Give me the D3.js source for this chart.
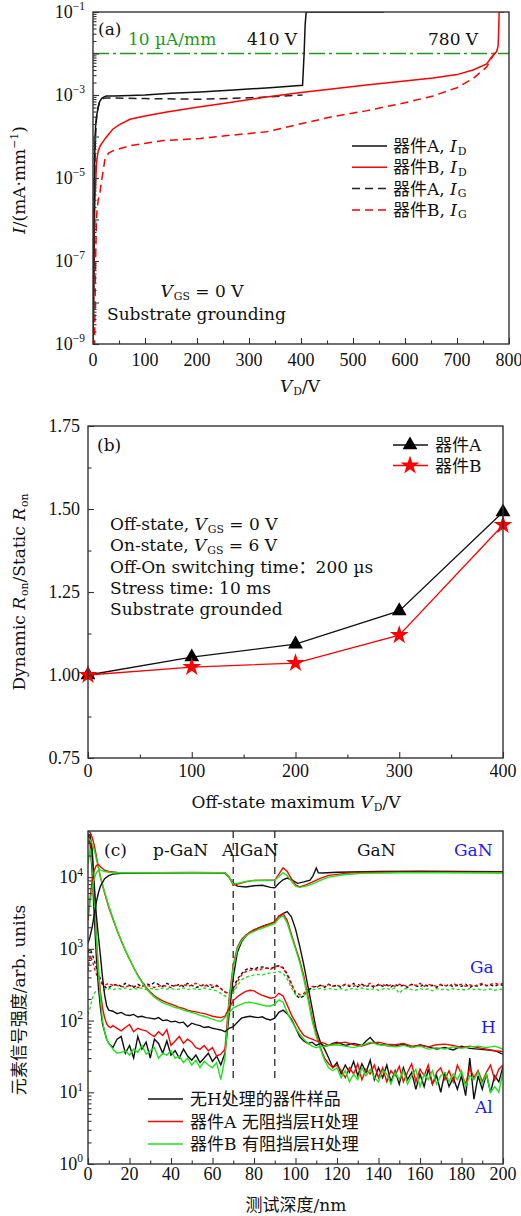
<!DOCTYPE html>
<html><head><meta charset="utf-8">
<script src="https://cdn.jsdelivr.net/npm/d3@7"></script>
<style>
body{margin:0;background:#fff}
svg{display:block}
text{font-family:"DejaVu Serif","Noto Sans CJK SC",serif;fill:#111}
.num{font-family:"Liberation Serif","DejaVu Serif",serif}
</style></head>
<body><svg id="c" width="521" height="1216"></svg>
<script>
// ---------- Panel (a) data: [V_D (V), I (mA/mm)] ----------
const idA = [[0,1e-9],[1,1e-8],[2,1e-6],[3,2e-5],[4,1e-4],[5,1.8e-4],[7,3.2e-4],[10,5e-4],[13,7e-4],[17,8.3e-4],[22,9.1e-4],[26,9.4e-4],[40,9.5e-4],[100,1.0e-3],[150,1.1e-3],[206,1.18e-3],[270,1.32e-3],[340,1.5e-3],[403,1.72e-3],[406,1e-2],[408,5e-2],[410,0.1],[560,0.1]];
const igA = [[0,1e-9],[1,1e-8],[2,1e-6],[4,5e-5],[6,2e-4],[8,4e-4],[12,6.5e-4],[16,7.8e-4],[20,8.3e-4],[26,8.5e-4],[40,8.5e-4],[100,8.2e-4],[206,7.9e-4],[270,8.3e-4],[334,8.9e-4],[403,1.0e-3]];
const idB = [[0,1e-9],[1,1e-8],[2,1e-7],[3,1e-6],[4,3.7e-6],[5,7e-6],[7,2.5e-5],[10,4.5e-5],[14,6e-5],[19,7.4e-5],[25,9.5e-5],[38,1.5e-4],[50,1.9e-4],[71,2.6e-4],[100,3.1e-4],[142,3.9e-4],[200,5.1e-4],[270,6.8e-4],[330,8.8e-4],[404,1.17e-3],[526,1.74e-3],[654,2.57e-3],[700,3.1e-3],[731,4e-3],[757,5.6e-3],[768,8.7e-3],[776,1.1e-2],[779,1.5e-2],[780,0.03],[781,0.1],[790,0.1]];
const igB = [[0,8e-10],[3,1e-9],[4,1e-8],[5,1e-7],[6,4e-7],[7,1.3e-6],[10,3e-6],[13,4e-6],[16,8e-6],[20,1.6e-5],[23,2.9e-5],[30,4e-5],[38,4.5e-5],[71,6e-5],[135,8e-5],[206,9e-5],[258,1.05e-4],[334,1.3e-4],[398,2e-4],[460,3e-4],[527,4.2e-4],[600,6.5e-4],[654,9.5e-4],[700,1.5e-3],[731,2.5e-3],[757,4.7e-3],[767,8e-3],[775,1.1e-2],[779,1.3e-2]];
const critCurrent = 1e-2; // 10 µA/mm
const xTicksA = [0,100,200,300,400,500,600,700,800];
const yExpLabelsA = [-1,-3,-5,-7,-9];

// ---------- Panel (b) data ----------
const vStress = [0,100,200,300,400];
const ronA = [1.0,1.054,1.093,1.193,1.491];
const ronB = [1.0,1.024,1.036,1.12,1.452];
const xTicksB = [0,100,200,300,400];
const yTicksB = [0.75,1.00,1.25,1.50,1.75];

// ---------- Panel (c) data (SIMS depth profiles) ----------
const depthGrid = [0,1,2,3,4,5,6,7,8,9,10,11,12,14,16,18,20,22,24,26,28,30,32,34,36,38,40,42,44,46,48,50,52,54,56,58,60,62,64,66,68,70,72,74,76,78,80,82,84,86,88,90,92,94,96,98,100,102,104,106,108,110,112,114,116,118,120,122,124,126,128,130,132,134,136,138,140,142,144,146,148,150,152,154,156,158,160,162,164,166,168,170,172,174,176,178,180,182,184,186,188,190,192,194,196,198,200];
const alBlack = [40000,30000,12000,3000,800,300,150,90,70,55,48,45,42,
 55,60,35,45,30,60,40,50,30,55,48,35,52,33,38,30,40,32,28,33,26,30,35,27,32,24,35,
 120,400,900,1250,1500,1700,1800,1950,2050,2150,2250,2350,2700,3100,3300,2800,1900,1100,600,300,150,75,50,40,30,22,
 26,18,24,19,27,17,25,19,28,15,22,16,24,14,20,13,22,15,19,11,18,12,21,13,17,10,19,12,16,11,17,9,30,8,17,11,18,10,17,14,23];
const alRed = [30000,35000,20000,6000,1500,500,250,150,110,90,82,80,85,
 78,72,80,88,70,78,74,72,65,60,70,62,75,45,52,60,48,55,50,42,40,45,38,42,32,34,40,
 200,600,1050,1350,1550,1700,1850,1950,2050,2150,2250,2400,2900,3100,2500,1600,1050,700,420,220,110,65,42,30,25,22,
 24,20,16,22,18,25,15,21,18,24,16,22,14,20,17,23,14,19,25,14,21,17,24,13,19,22,15,20,14,24,18,13,22,16,20,14,19,24,15,21,24];
const alGreen = [15000,25000,15000,5000,1500,500,200,100,70,55,48,44,40,
 35,36,38,33,40,36,45,34,38,42,30,35,33,38,30,32,26,30,24,28,22,27,24,22,26,15,30,
 180,550,1000,1300,1500,1650,1750,1850,1950,2050,2150,2250,2700,2900,2300,1500,1000,650,380,200,100,60,40,28,22,20,
 22,16,20,14,18,15,22,17,21,16,14,20,18,13,19,15,20,13,17,21,12,18,15,20,13,17,19,14,18,15,20,12,17,15,19,13,18,10,12,10,20];
const gaBlack = [900,1000,850,700,550,450,380,330,300,280,290,300,310,
 320,300,330,310,290,320,300,330,310,340,320,300,330,310,300,320,300,330,310,290,300,320,300,290,310,280,250,
 240,280,380,450,510,540,520,550,560,540,530,560,580,550,450,330,230,205,220,260,290,300,310,290,320,300,
 310,290,320,300,330,295,320,300,310,290,320,300,315,295,320,300,310,290,320,305,295,320,300,310,290,315,300,320,295,310,300,320,290,310,300,320,305,315,300,320,310];
const gaRed = [500,800,700,550,450,380,340,320,310,320,330,320,310,
 310,300,290,310,300,290,300,310,300,290,300,310,300,290,310,300,320,300,310,330,310,300,320,310,300,280,250,
 230,260,350,430,480,500,520,500,530,540,520,560,580,540,430,320,250,230,240,270,300,290,310,300,320,300,
 310,300,320,310,300,320,300,310,330,300,310,320,300,315,300,320,310,300,320,310,330,300,320,310,300,320,310,300,330,310,320,300,315,300,320,330,310,320,330,320,330];
const gaGreen = [120,150,200,240,260,270,265,260,270,280,275,280,270,
 280,275,285,270,280,275,285,270,280,275,270,285,275,280,270,275,285,270,280,275,270,285,275,270,260,240,220,
 210,240,310,370,400,420,430,440,430,450,460,470,480,460,380,290,230,215,225,250,270,275,280,270,280,275,
 270,280,265,275,280,270,285,275,270,280,265,275,280,270,285,240,275,280,270,265,280,270,275,260,280,270,275,265,280,270,275,265,280,270,275,265,270,275,265,270,275];
const ganBlack = [[0,1200],[1,1500],[2,2000],[3,3000],[4,4500],[5,6000],[6,7500],[8,9500],[10,10500],[12,11000],[16,11300],[30,11400],[50,11500],[66,11400],[68,10000],[70,8200],[72,7500],[76,7300],[80,7600],[84,7700],[88,7200],[90,7100],[92,8200],[94,9200],[96,9700],[98,9200],[101,8200],[104,8600],[107,9100],[108.5,10500],[110,13400],[111,11500],[113,11400],[120,11700],[140,12000],[160,12100],[180,12000],[200,11900]];
const ganRed = [[0,2500],[1,5000],[2,9000],[3,12500],[4,14500],[5,15000],[6,14000],[8,12500],[10,12000],[14,11600],[30,11500],[50,11600],[66,11500],[68,10000],[70,7800],[72,8000],[76,8600],[80,9000],[86,9100],[90,9100],[92,11000],[94,13500],[96,12000],[98,9500],[100,7800],[102,7300],[105,7800],[108,8500],[112,9600],[116,10600],[124,11300],[132,11600],[150,11700],[170,11700],[200,11600]];
const ganGreen = [[0,3000],[1,4500],[2,7000],[3,9500],[4,11500],[5,12500],[6,12500],[8,12000],[12,11500],[30,11500],[50,11500],[66,11500],[68,10000],[70,8000],[72,8200],[76,8700],[80,9000],[86,9000],[90,9100],[92,10200],[94,11500],[96,10500],[98,8800],[100,7500],[102,7200],[105,7500],[108,8000],[112,9000],[116,10000],[124,10900],[132,11300],[150,11500],[170,11500],[200,11400]];
const hBlack = [[0,40000],[1,38000],[2,25000],[3,8000],[4,3000],[5,1500],[6,800],[7,400],[8,230],[9,160],[10,140],[12,135],[14,125],[16,130],[18,120],[20,118],[22,122],[24,112],[26,115],[28,110],[30,108],[32,105],[34,110],[36,100],[38,102],[40,96],[42,98],[44,93],[46,95],[48,82],[50,92],[52,88],[54,85],[56,80],[58,82],[60,78],[62,76],[64,74],[66,70],[68,78],[70,82],[72,95],[74,108],[76,112],[78,115],[80,112],[82,110],[84,113],[86,105],[88,102],[90,108],[92,130],[94,140],[96,125],[98,105],[100,80],[102,60],[104,52],[106,48],[108,50],[110,45],[112,48],[114,44],[116,45],[118,48],[120,50],[124,45],[128,48],[132,45],[134,52],[136,58],[138,50],[140,47],[144,45],[148,44],[152,47],[156,42],[160,46],[164,43],[168,40],[172,42],[176,39],[180,44],[184,41],[188,40],[192,39],[196,38],[200,34]];
const hRed = [[0,45000],[1,42000],[2,36000],[3,28000],[4,20000],[5,14000],[6,10000],[8,6000],[10,3800],[12,2600],[14,1800],[16,1300],[18,950],[20,720],[22,550],[24,430],[26,350],[28,290],[30,250],[32,222],[34,202],[36,188],[38,178],[40,170],[42,162],[44,152],[46,148],[48,140],[50,135],[52,132],[54,128],[56,125],[58,120],[60,115],[62,112],[64,110],[66,115],[68,150],[70,190],[72,215],[74,235],[76,255],[78,265],[80,260],[82,240],[84,225],[86,215],[88,205],[90,210],[92,240],[94,220],[96,165],[98,120],[100,95],[102,75],[104,62],[106,58],[108,55],[110,52],[112,50],[114,48],[116,45],[120,48],[124,50],[128,46],[132,44],[136,48],[140,50],[144,47],[148,46],[152,48],[156,44],[160,45],[164,43],[168,46],[172,47],[176,45],[180,42],[184,44],[188,42],[192,40],[196,38],[200,37]];
const hGreen = [[0,35000],[1,33000],[2,29000],[3,24000],[4,18000],[5,13500],[6,10000],[8,6200],[10,4000],[12,2700],[14,1850],[16,1320],[18,960],[20,720],[22,545],[24,420],[26,340],[28,280],[30,240],[32,212],[34,192],[36,178],[38,168],[40,160],[42,152],[44,148],[46,140],[48,135],[50,130],[52,125],[54,118],[56,115],[58,110],[60,105],[62,100],[64,98],[66,110],[68,130],[70,150],[72,160],[74,170],[76,178],[78,180],[80,175],[82,170],[84,165],[86,160],[88,160],[90,170],[92,195],[94,180],[96,130],[98,100],[100,80],[102,65],[104,55],[106,48],[108,44],[110,42],[112,43],[116,45],[120,46],[124,44],[128,42],[132,45],[136,50],[140,46],[144,45],[148,43],[152,45],[156,42],[160,44],[164,40],[168,42],[172,40],[176,43],[180,41],[184,43],[188,44],[192,42],[196,44],[200,40]];
const layerBounds = [70,90];
const xTicksC = [0,20,40,60,80,100,120,140,160,180,200];
const yExpC = [0,1,2,3,4];

// ---------- drawing ----------
const svg = d3.select("#c");
const RED = "#ff0000", GRN = "#19e619", DGRN = "#1f9a1f", BLUE = "#1a1aff";

function rich(sel, x, y, parts, o = {}) {
  const fs = o.fs || 17;
  const t = sel.append("text").attr("x", x).attr("y", y).attr("font-size", fs)
    .attr("text-anchor", o.anchor || "start");
  if (o.cls) t.attr("class", o.cls);
  if (o.fill) t.style("fill", o.fill);
  if (o.rotate) t.attr("transform", `rotate(-90,${x},${y})`);
  let shift = 0;
  parts.forEach(p => {
    if (typeof p === "string") p = {t: p};
    const target = p.sub ? fs * 0.15 : p.sup ? -fs * 0.42 : 0;
    const ts = t.append("tspan").attr("dy", target - shift).text(p.t);
    shift = target;
    if (p.sub || p.sup) ts.attr("font-size", fs * 0.64);
    if (p.sub) ts.attr("dx", 1);
    if (p.i) ts.attr("font-style", "italic");
  });
  return t;
}
function frame(x, y) {
  const [x0, x1] = x.range(), [y1, y0] = y.range();
  svg.append("rect").attr("x", x0).attr("y", y0).attr("width", x1 - x0).attr("height", y1 - y0)
    .attr("fill", "none").attr("stroke", "#333").attr("stroke-width", 1.4);
}
function clipFor(id, x, y) {
  const [x0, x1] = x.range(), [y1, y0] = y.range();
  svg.append("clipPath").attr("id", id).append("rect")
    .attr("x", x0).attr("y", y0).attr("width", x1 - x0).attr("height", y1 - y0);
  return svg.append("g").attr("clip-path", `url(#${id})`);
}
function ticks(x, y, xMaj, xMin, yMaj, yMin) {
  const yb = y.range()[0], xl = x.range()[0];
  const st = g => { g.select(".domain").remove(); g.selectAll("line").attr("stroke", "#333").attr("stroke-width", 1.1); };
  svg.append("g").attr("transform", `translate(0,${yb})`).call(d3.axisBottom(x).tickValues(xMaj).tickSize(-6).tickFormat("")).call(st);
  svg.append("g").attr("transform", `translate(0,${yb})`).call(d3.axisBottom(x).tickValues(xMin).tickSize(-3.5).tickFormat("")).call(st);
  svg.append("g").attr("transform", `translate(${xl},0)`).call(d3.axisLeft(y).tickValues(yMaj).tickSize(-6).tickFormat("")).call(st);
  svg.append("g").attr("transform", `translate(${xl},0)`).call(d3.axisLeft(y).tickValues(yMin).tickSize(-3.5).tickFormat("")).call(st);
}
const isDecade = v => Math.abs(Math.log10(v) - Math.round(Math.log10(v))) < 1e-9;

// ===== Panel (a) =====
const xA = d3.scaleLinear([0, 800], [93, 509]);
const yA = d3.scaleLog([1e-9, 1e-1], [344, 12]);
const gA = clipFor("ca", xA, yA);
const lineA = d3.line().x(d => xA(d[0])).y(d => yA(d[1]));
gA.append("line").attr("x1", xA(0)).attr("x2", xA(800)).attr("y1", yA(critCurrent)).attr("y2", yA(critCurrent))
  .attr("stroke", DGRN).attr("stroke-width", 1.4).attr("stroke-dasharray", "16,4,3,4");
[[igB, RED, "8,5"], [igA, "#222", "8,5"], [idB, RED, null], [idA, "#111", null]].forEach(([d, c, da]) => {
  const p = gA.append("path").attr("d", lineA(d)).attr("fill", "none").attr("stroke", c).attr("stroke-width", 1.5);
  if (da) p.attr("stroke-dasharray", da);
});
const minorA = yA.ticks().filter(v => !isDecade(v));
const majA = yA.ticks().filter(isDecade);
ticks(xA, yA, xTicksA, d3.range(50, 800, 100), majA, minorA);
frame(xA, yA);
xTicksA.forEach(v => svg.append("text").attr("class", "num").attr("x", xA(v)).attr("y", 366).attr("font-size", 18).attr("text-anchor", "middle").text(v));
yExpLabelsA.forEach(e => rich(svg, 85, yA(Math.pow(10, e)) + 6, ["10", {t: "−" + Math.abs(e), sup: true}], {anchor: "end", fs: 18, cls: "num"}));
rich(svg, 300, 392, [{t: "V", i: true}, {t: "D", sub: true}, "/V"], {anchor: "middle", fs: 17});
rich(svg, 25, 180, [{t: "I", i: true}, "/(mA·mm", {t: "−1", sup: true}, ")"], {anchor: "middle", fs: 17, rotate: true});
rich(svg, 98, 35, ["(a)"], {fs: 17});
rich(svg, 128, 45, ["10 µA/mm"], {fs: 17, fill: DGRN});
rich(svg, 247, 45, ["410 V"], {fs: 17});
rich(svg, 428, 45, ["780 V"], {fs: 17});
rich(svg, 202, 297, [{t: "V", i: true}, {t: "GS", sub: true}, " = 0 V"], {anchor: "middle", fs: 17});
rich(svg, 107, 320, ["Substrate grounding"], {fs: 17});
const legA = [["器件A, ", "D", "#111", null], ["器件B, ", "D", RED, null], ["器件A, ", "G", "#222", "8,5"], ["器件B, ", "G", RED, "8,5"]];
legA.forEach((r, i) => {
  const y = 146 + i * 21.3;
  const l = svg.append("line").attr("x1", 352).attr("x2", 387).attr("y1", y).attr("y2", y).attr("stroke", r[2]).attr("stroke-width", 1.5);
  if (r[3]) l.attr("stroke-dasharray", r[3]);
  rich(svg, 393, y + 6, [r[0], {t: "I", i: true}, {t: r[1], sub: true}], {fs: 17});
});

// ===== Panel (b) =====
const xB = d3.scaleLinear([0, 400], [88, 503]);
const yB = d3.scaleLinear([0.75, 1.75], [758, 426]);
const gB = svg.append("g");
const lineB = d3.line().x((d, i) => xB(vStress[i])).y(d => yB(d));
gB.append("path").attr("d", lineB(ronA)).attr("fill", "none").attr("stroke", "#111").attr("stroke-width", 1.3);
gB.append("path").attr("d", lineB(ronB)).attr("fill", "none").attr("stroke", RED).attr("stroke-width", 1.3);
const tri = d3.symbol(d3.symbolTriangle, 95), star = d3.symbol(d3.symbolStar, 110);
ronA.forEach((v, i) => gB.append("path").attr("d", tri()).attr("transform", `translate(${xB(vStress[i])},${yB(v)})`).attr("fill", "#000"));
ronB.forEach((v, i) => gB.append("path").attr("d", star()).attr("transform", `translate(${xB(vStress[i])},${yB(v)})`).attr("fill", RED));
ticks(xB, yB, xTicksB, [50, 150, 250, 350], yTicksB, [0.875, 1.125, 1.375, 1.625]);
frame(xB, yB);
xTicksB.forEach(v => svg.append("text").attr("class", "num").attr("x", xB(v)).attr("y", 777).attr("font-size", 18).attr("text-anchor", "middle").text(v));
yTicksB.forEach(v => svg.append("text").attr("class", "num").attr("x", 80).attr("y", yB(v) + 6).attr("font-size", 18).attr("text-anchor", "end").text(v.toFixed(2)));
rich(svg, 296, 808, ["Off-state maximum ", {t: "V", i: true}, {t: "D", sub: true}, "/V"], {anchor: "middle", fs: 17});
rich(svg, 25, 592, ["Dynamic ", {t: "R", i: true}, {t: "on", sub: true}, "/Static ", {t: "R", i: true}, {t: "on", sub: true}], {anchor: "middle", fs: 17, rotate: true});
rich(svg, 97, 451, ["(b)"], {fs: 17});
[["器件A", "#111", tri], ["器件B", RED, star]].forEach((r, i) => {
  const y = 445 + i * 20.5;
  svg.append("line").attr("x1", 393).attr("x2", 428).attr("y1", y).attr("y2", y).attr("stroke", r[1]).attr("stroke-width", 1.3);
  svg.append("path").attr("d", r[2]()).attr("transform", `translate(410,${y})`).attr("fill", r[1] === RED ? RED : "#000");
  rich(svg, 435, y + 6, [r[0]], {fs: 17});
});
const infoB = [
  ["Off-state, ", {t: "V", i: true}, {t: "GS", sub: true}, " = 0 V"],
  ["On-state, ", {t: "V", i: true}, {t: "GS", sub: true}, " = 6 V"],
  ["Off-On switching time：200 µs"],
  ["Stress time: 10 ms"],
  ["Substrate grounded"]];
infoB.forEach((p, i) => rich(svg, 110, 530 + i * 21.3, p, {fs: 17}));

// ===== Panel (c) =====
const xC = d3.scaleLinear([0, 200], [88, 503]);
const yC = d3.scaleLog([1, 44000], [1164, 831]);
const gC = clipFor("cc", xC, yC);
const lineC = d3.line().x(d => xC(d[0])).y(d => yC(d[1]));
const gridLine = d3.line().x((d, i) => xC(depthGrid[i])).y(d => yC(d));
layerBounds.forEach(b => gC.append("line").attr("x1", xC(b)).attr("x2", xC(b)).attr("y1", yC(44000)).attr("y2", yC(15))
  .attr("stroke", "#444").attr("stroke-width", 1.5).attr("stroke-dasharray", "7,5"));
const cols = ["#111", RED, GRN];
[gaBlack, gaRed, gaGreen].forEach((d, k) => gC.append("path").attr("d", gridLine(d)).attr("fill", "none").attr("stroke", cols[k]).attr("stroke-width", 1.4).attr("stroke-dasharray", "3,2.5"));
[alBlack, alRed, alGreen].forEach((d, k) => gC.append("path").attr("d", gridLine(d)).attr("fill", "none").attr("stroke", cols[k]).attr("stroke-width", 1.4));
[hBlack, hRed, hGreen].forEach((d, k) => gC.append("path").attr("d", lineC(d)).attr("fill", "none").attr("stroke", cols[k]).attr("stroke-width", 1.4));
[ganBlack, ganRed, ganGreen].forEach((d, k) => gC.append("path").attr("d", lineC(d)).attr("fill", "none").attr("stroke", cols[k]).attr("stroke-width", 1.4));
const minorC = yC.ticks().filter(v => !isDecade(v));
const majC = yC.ticks().filter(isDecade);
ticks(xC, yC, xTicksC, d3.range(10, 200, 20), majC, minorC);
frame(xC, yC);
xTicksC.forEach(v => svg.append("text").attr("class", "num").attr("x", xC(v)).attr("y", 1180).attr("font-size", 18).attr("text-anchor", "middle").text(v));
yExpC.forEach(e => rich(svg, 83, yC(Math.pow(10, e)) + 6, ["10", {t: String(e), sup: true}], {anchor: "end", fs: 18, cls: "num"}));
rich(svg, 296, 1211, ["测试深度/nm"], {anchor: "middle", fs: 17});
rich(svg, 25, 1000, ["元素信号强度/arb. units"], {anchor: "middle", fs: 17, rotate: true});
rich(svg, 104, 856, ["(c)"], {fs: 17});
rich(svg, 153, 856, ["p-GaN"], {fs: 17});
rich(svg, 222, 856, ["AlGaN"], {fs: 17});
rich(svg, 357, 856, ["GaN"], {fs: 17});
rich(svg, 454, 856, ["GaN"], {fs: 17, fill: BLUE});
rich(svg, 470, 973, ["Ga"], {fs: 17, fill: BLUE});
rich(svg, 481, 1033, ["H"], {fs: 17, fill: BLUE});
rich(svg, 475, 1113, ["Al"], {fs: 17, fill: BLUE});
[["无H处理的器件样品", "#111"], ["器件A 无阻挡层H处理", RED], ["器件B 有阻挡层H处理", GRN]].forEach((r, i) => {
  const y = 1099 + i * 22.5;
  svg.append("line").attr("x1", 148).attr("x2", 183).attr("y1", y).attr("y2", y).attr("stroke", r[1]).attr("stroke-width", 1.5);
  rich(svg, 190, y + 6, [r[0]], {fs: 17});
});
</script></body></html>
